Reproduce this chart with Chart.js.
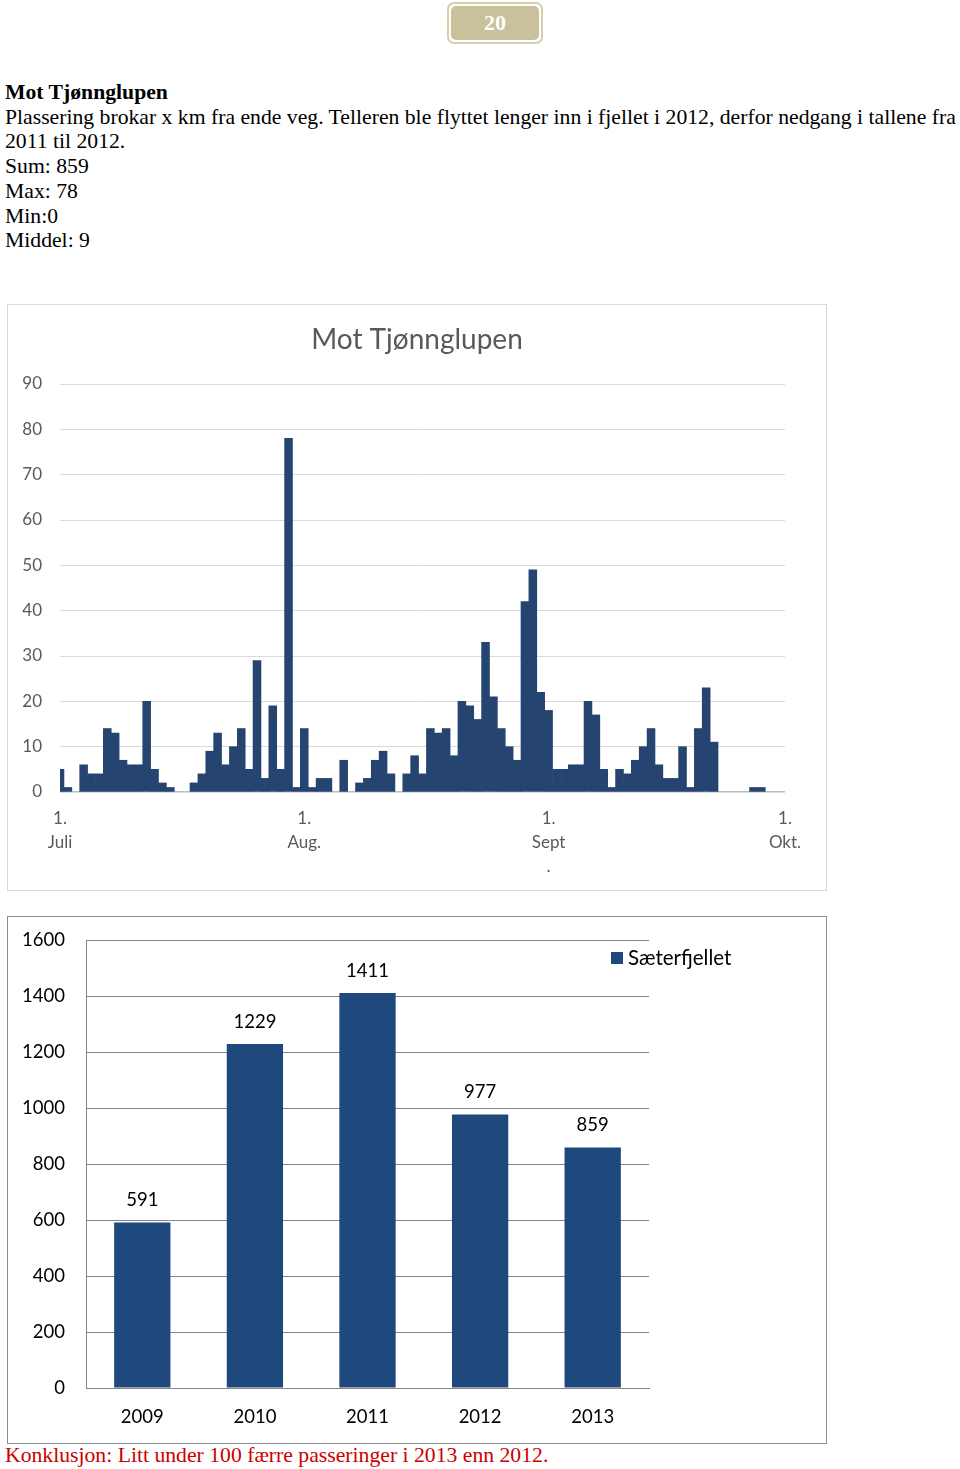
<!DOCTYPE html>
<html>
<head>
<meta charset="utf-8">
<script src="https://cdn.jsdelivr.net/npm/chart.js@4/dist/chart.umd.min.js"></script>
<style>
  html, body { margin: 0; padding: 0; background: #fff; }
  body { width: 960px; height: 1469px; position: relative; overflow: hidden; }
  .pg { position: absolute; left: 447px; top: 2px; width: 92px; height: 38px; border: 2px solid #d6cfae; border-radius: 7px; padding: 0; background: #fff; }
  .pg div { position: absolute; left: 2px; top: 2px; right: 2px; bottom: 2px; background: #c9c19b; border-radius: 5px; color: #fff; font: bold 22px "Liberation Serif", serif; text-align: center; line-height: 34px; }
  .txt { position: absolute; left: 5px; top: 80px; font: 21.7px "Liberation Serif", serif; line-height: 24.7px; color: #000; white-space: nowrap; }
  .box1 { position: absolute; left: 7px; top: 304px; width: 818px; height: 585px; border: 1px solid #d9d9d9; }
  .box2 { position: absolute; left: 7px; top: 916px; width: 818px; height: 526px; border: 1px solid #8c8c8c; }
  .concl { position: absolute; left: 5px; top: 1443px; font: 21.7px "Liberation Serif", serif; line-height: 24.7px; color: #cc0000; white-space: nowrap; }
  canvas { display: block; }
</style>
</head>
<body>
<div class="pg"><div>20</div></div>
<div class="txt">
  <b>Mot Tjønnglupen</b><br>
  Plassering brokar x km fra ende veg. Telleren ble flyttet lenger inn i fjellet i 2012, derfor nedgang i tallene fra<br>
  2011 til 2012.<br>
  Sum: 859<br>
  Max: 78<br>
  Min:0<br>
  Middel: 9
</div>
<div class="box1"><canvas id="c1" width="818" height="585"></canvas></div>
<div class="box2"><canvas id="c2" width="818" height="526"></canvas></div>
<div class="concl">Konklusjon: Litt under 100 færre passeringer i 2013 enn 2012.</div>

<script>
// ---- Data: daily passings "Mot Tjønnglupen", 1 July .. 1 Oct (93 days) ----
const julyCounts = [5,1,0,6,4,4,14,13,7,6,6,20,5,2,1,0,0,2,4,9,13,6,10,14,5,29,3,19,5,78,1];
const augustCounts = [14,1,3,3,0,7,0,2,3,7,9,4,0,4,8,4,14,13,14,8,20,19,16,33,21,14,10,7,42,49,22];
const septemberCounts = [18,5,5,6,6,20,17,5,1,5,4,7,10,14,6,3,3,10,1,14,23,11,0,0,0,0,1,1,0,0];
const octoberCounts = [0];
const dailyTitle = 'Mot Tjønnglupen';
const monthTickLabels = { 0: ['1.', 'Juli'], 31: ['1.', 'Aug.'], 62: ['1.', 'Sept', '.'], 92: ['1.', 'Okt.'] };
const dailyYTicks = { min: 0, max: 90, step: 10 };

// ---- Data: yearly totals ----
const years = ['2009', '2010', '2011', '2012', '2013'];
const yearTotals = [591, 1229, 1411, 977, 859];
const yearSeriesName = 'Sæterfjellet';
const yearlyYTicks = { min: 0, max: 1600, step: 200 };

const dailyCounts = [].concat(julyCounts, augustCounts, septemberCounts, octoberCounts);
const dayLabels = dailyCounts.map((_, i) => {
  const d = new Date(2013, 6, 1 + i);
  return d.getDate() + '.' + (d.getMonth() + 1) + '.';
});

const FONT = 'Lato, "Open Sans", sans-serif';

const centeredTitle = {
  id: 'centeredTitle',
  afterDraw(chart, args, opts) {
    const ctx = chart.ctx;
    ctx.save();
    ctx.fillStyle = '#595959';
    ctx.font = '28px ' + FONT;
    ctx.textAlign = 'center';
    ctx.textBaseline = 'middle';
    ctx.fillText(opts.text, chart.width / 2, 35);
    ctx.restore();
  }
};

new Chart(document.getElementById('c1'), {
  type: 'bar',
  data: {
    labels: dayLabels,
    datasets: [{
      label: dailyTitle,
      data: dailyCounts,
      backgroundColor: '#264470',
      barPercentage: 1,
      categoryPercentage: 1,
      clip: 0
    }]
  },
  options: {
    responsive: false,
    animation: false,
    devicePixelRatio: 1,
    layout: { padding: { left: 0, right: 41, top: 79, bottom: 0 } },
    plugins: {
      legend: { display: false },
      tooltip: { enabled: false },
      title: { display: false },
      centeredTitle: { text: dailyTitle }
    },
    scales: {
      x: {
        offset: false,
        grid: { display: false },
        border: { display: false },
        ticks: {
          autoSkip: false,
          maxRotation: 0,
          minRotation: 0,
          color: '#595959',
          font: { family: FONT, size: 17, lineHeight: 1.41 },
          padding: 7,
          callback: (v, i) => monthTickLabels[i] || ''
        },
        afterFit: s => { s.height = 98; }
      },
      y: {
        min: dailyYTicks.min,
        max: dailyYTicks.max,
        ticks: { stepSize: dailyYTicks.step, color: '#595959', font: { family: FONT, size: 17 }, padding: 18 },
        grid: { color: '#d9d9d9', drawTicks: false },
        border: { display: false },
        afterFit: s => { s.width = 52; }
      }
    }
  },
  plugins: [centeredTitle]
});

const valueLabels = {
  id: 'valueLabels',
  afterDatasetsDraw(chart) {
    const ctx = chart.ctx;
    const meta = chart.getDatasetMeta(0);
    const ds = chart.data.datasets[0];
    ctx.save();
    ctx.fillStyle = '#000';
    ctx.font = '18.5px ' + FONT;
    ctx.textAlign = 'center';
    ctx.textBaseline = 'middle';
    meta.data.forEach((bar, i) => {
      ctx.fillText(String(ds.data[i]), bar.x, bar.y - 22);
    });
    ctx.restore();
  }
};

const sideLegend = {
  id: 'sideLegend',
  afterDraw(chart) {
    const ctx = chart.ctx;
    const a = chart.chartArea;
    const ds = chart.data.datasets[0];
    const x = a.right - 38, y = a.top + 12;
    ctx.save();
    ctx.fillStyle = ds.backgroundColor;
    ctx.fillRect(x, y, 12, 12);
    ctx.fillStyle = '#000';
    ctx.font = '20.5px ' + FONT;
    ctx.textAlign = 'left';
    ctx.textBaseline = 'middle';
    ctx.fillText(ds.label, x + 17, y + 6.5);
    ctx.restore();
  }
};

new Chart(document.getElementById('c2'), {
  type: 'bar',
  data: {
    labels: years,
    datasets: [{
      label: yearSeriesName,
      data: yearTotals,
      backgroundColor: '#1F497D',
      barPercentage: 0.5,
      categoryPercentage: 1
    }]
  },
  options: {
    responsive: false,
    animation: false,
    devicePixelRatio: 1,
    layout: { padding: { left: 0, right: 177, top: 23, bottom: 0 } },
    plugins: { legend: { display: false }, tooltip: { enabled: false }, title: { display: false } },
    scales: {
      x: {
        grid: { display: false },
        border: { display: true, color: '#868686' },
        ticks: { color: '#000', font: { family: FONT, size: 18.5 }, padding: 10 },
        afterFit: s => { s.height = 55; }
      },
      y: {
        min: yearlyYTicks.min,
        max: yearlyYTicks.max,
        ticks: { stepSize: yearlyYTicks.step, color: '#000', font: { family: FONT, size: 18.5 }, padding: 0, callback: v => String(v) },
        grid: { color: '#868686', drawTicks: true, tickLength: 21, tickColor: 'rgba(0,0,0,0)' },
        border: { display: true, color: '#868686' },
        afterFit: s => { s.width = 78; }
      }
    }
  },
  plugins: [valueLabels, sideLegend]
});
</script>
</body>
</html>
